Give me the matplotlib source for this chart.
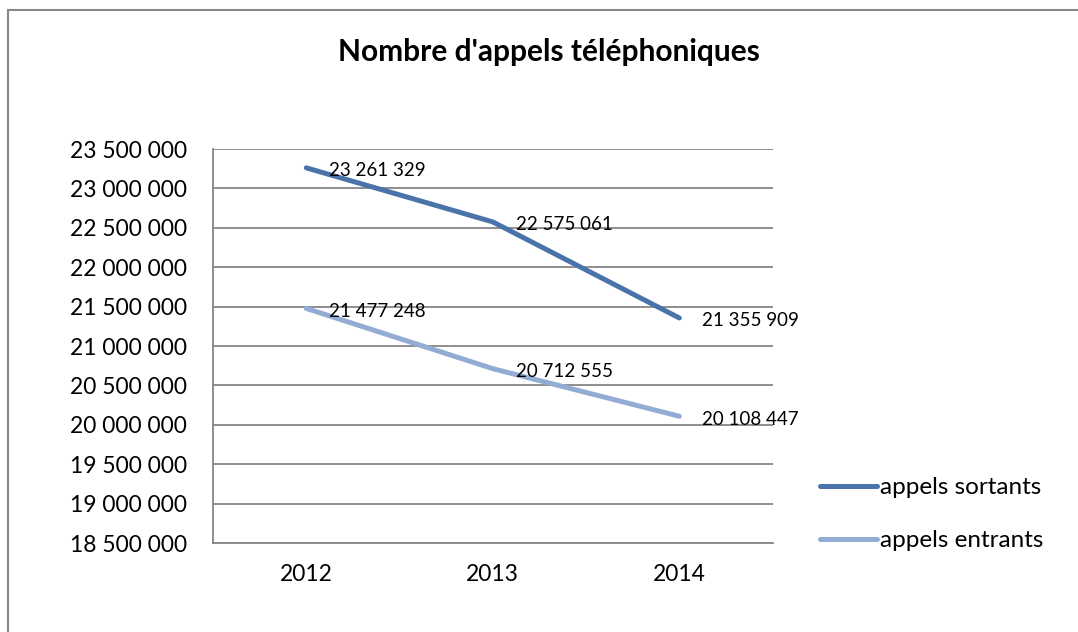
import numpy as np
import matplotlib.pyplot as plt
from matplotlib.patches import Rectangle

# Data
years = ["2012", "2013", "2014"]
sortants = [23261329, 22575061, 21355909]
entrants = [21477248, 20712555, 20108447]
labels_sortants = ["23 261 329", "22 575 061", "21 355 909"]
labels_entrants = ["21 477 248", "20 712 555", "20 108 447"]
yticks = np.arange(18500000, 23500001, 500000)

plt.rcParams['font.family'] = ['Lato', 'DejaVu Sans']

fig = plt.figure(figsize=(10.78, 6.32), dpi=100)
ax = fig.add_axes([0.1976, 0.1408, 0.7167 - 0.1976, 0.7642 - 0.1408])

# outer frame (only left/top visible in the reference)
fig.patches.append(Rectangle((8 / 1078, -0.1), 1.2, 1 - 10 / 632 + 0.1,
                             transform=fig.transFigure, fill=False,
                             edgecolor='#888888', linewidth=1.5))

x = np.arange(len(years))
ax.plot(x, sortants, color='#4a73aa', lw=3.6, solid_capstyle='round',
        label='appels sortants')
ax.plot(x, entrants, color='#93acd3', lw=3.6, solid_capstyle='round',
        label='appels entrants')

for xi, v, t in zip(x, sortants, labels_sortants):
    ax.annotate(t, (xi, v), xytext=(23, -3), textcoords='offset pixels',
                va='center', ha='left', fontsize=13.5)
for xi, v, t in zip(x, entrants, labels_entrants):
    ax.annotate(t, (xi, v), xytext=(23, -3), textcoords='offset pixels',
                va='center', ha='left', fontsize=13.5)

ax.set_xlim(-0.5, 2.5)
ax.set_ylim(18500000, 23500000)
ax.set_yticks(yticks)
ax.set_yticklabels([f"{v:,}".replace(",", " ") for v in yticks], fontsize=16.4)
ax.set_xticks(x)
ax.set_xticklabels(years, fontsize=16.4)
ax.tick_params(axis='y', length=0, pad=18.7)
ax.tick_params(axis='x', length=0, pad=15)
ax.grid(axis='y', color='#868686', lw=1.3)
ax.set_axisbelow(True)
for s in ['top', 'right']:
    ax.spines[s].set_visible(False)
for s in ['left', 'bottom']:
    ax.spines[s].set_color('#868686')
    ax.spines[s].set_linewidth(1.3)

fig.text(549 / 1078, 1 - 52 / 632, "Nombre d'appels téléphoniques",
         ha='center', va='center', fontsize=21.5, fontweight='bold')

fig.legend(loc='upper left', bbox_to_anchor=(820 / 1078, 1 - 477 / 632),
           frameon=False, fontsize=17.5, handlelength=2.35, handletextpad=0.12,
           labelspacing=1.32, borderpad=0, borderaxespad=0)

fig.savefig("out.png", dpi=100)
